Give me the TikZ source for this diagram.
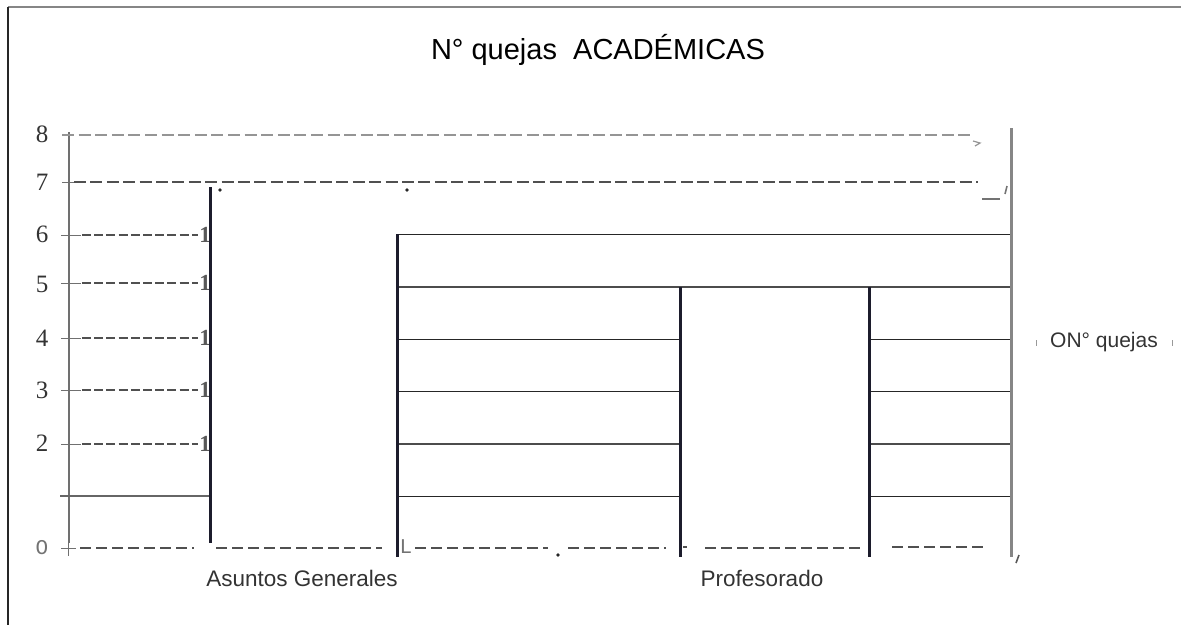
\documentclass[tikz,border=0pt]{standalone}
\usepackage{fontspec}
\setmainfont{Liberation Sans}
\newfontfamily\serifnum{Liberation Serif}
\newfontfamily\monofam{Liberation Mono}
\definecolor{barc}{HTML}{1C1C2C}
\definecolor{axisc}{HTML}{707070}
\definecolor{rightc}{HTML}{868686}
\definecolor{dashdark}{HTML}{505050}
\definecolor{dashlight}{HTML}{959595}
\begin{document}
\begin{tikzpicture}[x=1pt,y=-1pt,
  framel/.style={draw=rightc, line width=2pt},
  bar/.style={draw=barc, line width=3pt},
  grid/.style={draw=black!85, line width=1pt},
  gridthick/.style={draw=black!70, line width=1.8pt},
  shortdash/.style={draw=dashdark, line width=1.3pt, dash pattern=on 9pt off 3.2pt},
  longdash/.style={draw=dashdark, line width=1.6pt, dash pattern=on 12pt off 4.4pt},
  lightdash/.style={draw=dashlight, line width=1.6pt, dash pattern=on 12pt off 4.6pt},
  zerodash/.style={draw=dashdark, line width=1.5pt, dash pattern=on 11pt off 5pt},
  tick/.style={draw=axisc, line width=1pt},
  ylab/.style={font=\serifnum\fontsize{25}{28}\selectfont, text=black!80, inner sep=0pt},
  onelab/.style={font=\serifnum\bfseries\fontsize{23}{26}\selectfont, text=black!65, inner sep=0pt},
  catlab/.style={font=\fontsize{22.5}{26}\selectfont, text=black!80, inner sep=0pt},
  leglab/.style={font=\fontsize{21}{24}\selectfont, text=black!80, inner sep=0pt},
  monolab/.style={font=\monofam\fontsize{21}{24}\selectfont, text=black!55, inner sep=0pt},
  dotc/.style={fill=black!85, draw=none}
]
\useasboundingbox (0,0) rectangle (1181,625);
% frame
\draw[framel] (8,7) -- (1181,7);
\draw[draw=black!85, line width=1.5pt] (8,7) -- (8,625);
% title
\node[font=\fontsize{29}{32}\selectfont, text=black, inner sep=0pt] (title) at (598,50) {N° quejas\ \ ACADÉMICAS};
% y axis
\draw[draw=axisc, line width=2.2pt] (69,132) -- (69,543);
% level 8 and 7
\draw[lightdash] (62,135) -- (970,135);
\draw[draw=dashlight, line width=1.2pt] (973,141) -- (980,143) -- (975,146);
\draw[tick] (62,182) -- (74,182);
\draw[longdash] (74,182) -- (978,182);
\draw[draw=black!55, line width=1.4pt] (982,199) -- (1000,199);
\draw[draw=black!55, line width=1.6pt] (1007,186) -- (1005,194);
\fill[dotc] (220,190) circle (1.8);
\fill[dotc] (407,190) circle (1.8);
% levels 2..6 (left of first bar)
\foreach \yy in {235,283,338,390,444}{
  \draw[tick] (61,\yy) -- (81,\yy);
  \draw[tick] (69,\yy-8) -- (69,\yy+8);
  \draw[shortdash] (82,\yy) -- (198,\yy);
  \node[onelab] at (205,\yy) {1};
}
% level 1 solid line
\draw[draw=black!60, line width=1.1pt] (60,496) -- (212,496);
% y labels
\node[ylab] (y8) at (42,134) {8};
\node[ylab] (y7) at (42,182) {7};
\node[ylab] (y6) at (42,234) {6};
\node[ylab] (y5) at (42,284) {5};
\node[ylab] (y4) at (42,338) {4};
\node[ylab] (y3) at (42,390) {3};
\node[ylab] (y2) at (42,443) {2};
\node[monolab] (y0) at (42,548) {O};
% bar outlines
\draw[grid] (397,234) -- (1011,234);
\draw[gridthick] (397,287) -- (1011,287);
\foreach \yy/\st in {339/grid,391/grid,444/gridthick,496/grid}{
  \draw[\st] (397,\yy) -- (680,\yy);
  \draw[\st] (869,\yy) -- (1011,\yy);
}
% zero line
\draw[tick] (61,548) -- (76,548);
\draw[tick] (68,540) -- (68,556);
\draw[zerodash] (80,548) -- (194,548);
\draw[zerodash] (216,548) -- (382,548);
\node[monolab] (lmark) at (406,547) {L};
\draw[zerodash] (415,548) -- (548,548);
\fill[dotc] (558,555) circle (1.8);
\draw[zerodash] (568,548) -- (666,548);
\draw[draw=dashdark, line width=1.5pt] (683,547) -- (687,547);
\draw[zerodash] (705,548) -- (860,548);
\draw[zerodash] (892,547) -- (988,547);
\draw[draw=black!65, line width=1.6pt] (1019,555) -- (1016,563);
% bars
\draw[bar] (210,187) -- (210,543);
\draw[bar] (397,234) -- (397,557);
\draw[bar] (680,287) -- (680,557);
\draw[bar] (869,287) -- (869,557);
\draw[draw=rightc, line width=3pt] (1011,128) -- (1011,557);
% category labels
\node[catlab] (cat1) at (302,578) {Asuntos Generales};
\node[catlab] (cat2) at (762,578) {Profesorado};
% legend
\node[leglab] (legend) at (1104,342) {ON° quejas};
\draw[draw=black!40, line width=0.8pt] (1036,340) -- (1036,346);
\draw[draw=black!40, line width=0.8pt] (1172,340) -- (1172,346);
\end{tikzpicture}
\end{document}
